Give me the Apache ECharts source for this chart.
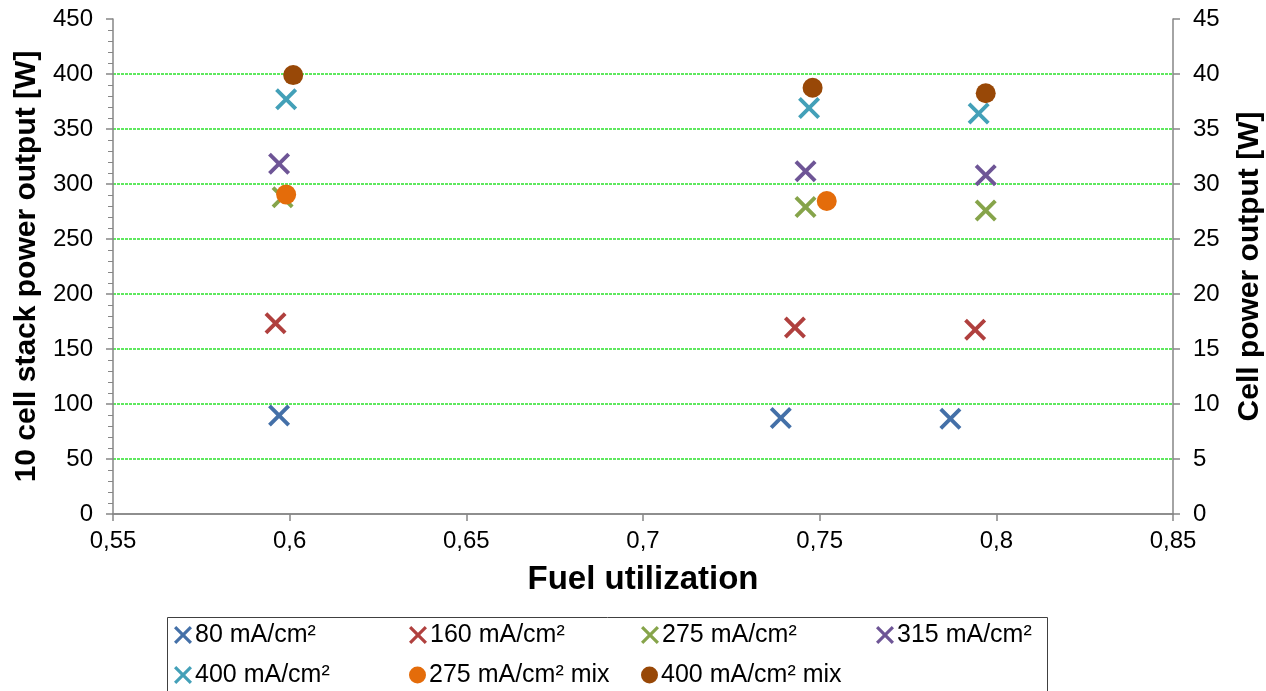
<!DOCTYPE html>
<html>
<head>
<meta charset="utf-8">
<script src="https://cdn.jsdelivr.net/npm/echarts@6/dist/echarts.min.js"></script>
<style>html,body{margin:0;padding:0;background:#fff}#c{width:1266px;height:691px}</style>
</head>
<body>
<div id="c"></div>
<script>
// ---- data ----
const seriesNames = ['80 mA/cm²', '160 mA/cm²', '275 mA/cm²', '315 mA/cm²', '400 mA/cm²', '275 mA/cm² mix', '400 mA/cm² mix'];
const s80 = [[0.597, 89.5], [0.739, 87.2], [0.787, 86.5]];
const s160 = [[0.596, 173.5], [0.743, 169.5], [0.794, 167.5]];
const s275 = [[0.598, 288], [0.746, 279], [0.797, 276]];
const s315 = [[0.597, 318.5], [0.746, 311.5], [0.797, 308]];
const s400 = [[0.599, 377], [0.747, 369], [0.795, 364]];
const s275mix = [[0.599, 290.5], [0.752, 284.5]];
const s400mix = [[0.601, 399], [0.748, 387.5], [0.797, 382.5]];
const xTickLabels = ['0,55', '0,6', '0,65', '0,7', '0,75', '0,8', '0,85'];

// ---- styles ----
const FONT = "'Liberation Sans', Arial, sans-serif";
const XP = 'path://M0,2.5 L2.5,0 L10,7.5 L17.5,0 L20,2.5 L12.5,10 L20,17.5 L17.5,20 L10,12.5 L2.5,20 L0,17.5 L7.5,10 Z';
const colors = ['#4470A8', '#B0403E', '#86A44A', '#6E5596', '#43A0B8', '#E46C0A', '#984807'];
const symbols = [XP, XP, XP, XP, XP, 'circle', 'circle'];
const sizes = [22, 22, 22, 22, 22, 20, 20];
const allData = [s80, s160, s275, s315, s400, s275mix, s400mix];
const AXIS_C = '#868686';
const GRID_C = '#5ee85e';

const series = allData.map((d, i) => ({
  name: seriesNames[i], type: 'scatter', data: d,
  symbol: symbols[i], symbolSize: sizes[i],
  itemStyle: { color: colors[i], opacity: 1 },
  emphasis: { disabled: true }, z: 3 + i
}));

const legCols = [174, 409, 641, 876];
const legRows = [621, 661];
const legends = seriesNames.map((n, i) => ({
  data: [n], left: legCols[i % 4], top: legRows[Math.floor(i / 4)],
  padding: 0, itemGap: 0, itemWidth: i >= 5 ? 17 : 18, itemHeight: i >= 5 ? 17 : 18,
  icon: symbols[i], selectedMode: false,
  textStyle: { fontSize: 25, fontFamily: FONT, color: '#000', lineHeight: 28, padding: [0, 0, 0, -2] }
}));

const chart = echarts.init(document.getElementById('c'), null, { renderer: 'canvas' });
chart.setOption({
  animation: false,
  backgroundColor: '#fff',
  grid: { left: 113, right: 93, top: 19, bottom: 177, containLabel: false, outerBoundsMode: 'none' },
  legend: legends,
  xAxis: [{
    type: 'value', min: 0.55, max: 0.85, interval: 0.05,
    name: 'Fuel utilization', nameLocation: 'middle', nameGap: 49,
    nameTextStyle: { fontSize: 33, fontWeight: 'bold', fontFamily: FONT, color: '#000' },
    axisLine: { lineStyle: { color: AXIS_C, width: 1.5 } },
    axisTick: { show: true, length: 7, lineStyle: { color: AXIS_C, width: 1.5 } },
    axisLabel: { fontSize: 24, fontFamily: FONT, color: '#000', margin: 15,
      formatter: v => { const k = Math.round((v - 0.55) / 0.05); return xTickLabels[k] !== undefined ? xTickLabels[k] : ''; } },
    splitLine: { show: false }, minorSplitLine: { show: false }
  }, {
    type: 'value', position: 'top', min: 0.55, max: 0.85,
    axisLine: { show: true, lineStyle: { color: AXIS_C, width: 1.5 } },
    axisTick: { show: false }, axisLabel: { show: false },
    splitLine: { show: false }, minorSplitLine: { show: false }
  }],
  yAxis: [{
    type: 'value', min: 0, max: 450, interval: 50, position: 'left',
    name: '10 cell stack power output [W]', nameLocation: 'middle', nameGap: 70, nameRotate: 90,
    nameTextStyle: { fontSize: 30, fontWeight: 'bold', fontFamily: FONT, color: '#000' },
    axisLine: { show: true, lineStyle: { color: AXIS_C, width: 1.5 } },
    axisTick: { show: true, length: 7, lineStyle: { color: AXIS_C, width: 1.5 } },
    minorTick: { show: true, splitNumber: 5, length: 5, lineStyle: { color: AXIS_C, width: 1 } },
    axisLabel: { fontSize: 24, fontFamily: FONT, color: '#000', margin: 20 },
    splitLine: { show: true, showMinLine: false, showMaxLine: false, lineStyle: { color: GRID_C, width: 2, type: [3, 1] } },
    minorSplitLine: { show: false },
    splitArea: { show: false }
  }, {
    type: 'value', min: 0, max: 45, interval: 5, position: 'right',
    name: 'Cell power output [W]', nameLocation: 'middle', nameGap: 62, nameRotate: 90,
    nameTextStyle: { fontSize: 30, fontWeight: 'bold', fontFamily: FONT, color: '#000' },
    axisLine: { show: true, lineStyle: { color: AXIS_C, width: 1.5 } },
    axisTick: { show: true, length: 7, lineStyle: { color: AXIS_C, width: 1.5 } },
    axisLabel: { fontSize: 24, fontFamily: FONT, color: '#000', margin: 20 },
    splitLine: { show: false }, minorSplitLine: { show: false },
    splitArea: { show: false }
  }],
  graphic: [{
    type: 'rect', shape: { x: 167.5, y: 617.5, width: 880, height: 90 },
    style: { fill: 'none', stroke: '#404040', lineWidth: 1 }, z: 0
  }],
  series: series
});
</script>
</body>
</html>
